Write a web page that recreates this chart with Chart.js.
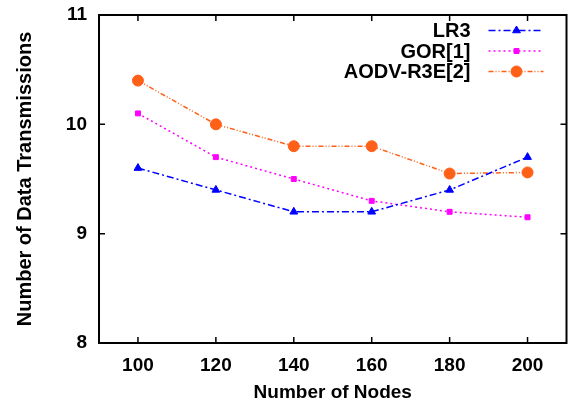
<!DOCTYPE html>
<html>
<head>
<meta charset="utf-8">
<script src="https://cdn.jsdelivr.net/npm/chart.js@4.4.0/dist/chart.umd.min.js"></script>
<style>
  html, body { margin: 0; padding: 0; background: #fff; }
  #wrap { width: 573px; height: 408px; }
</style>
</head>
<body>
<div id="wrap"><canvas id="c" width="573" height="408"></canvas></div>
<script>
// values
const nodes = [100, 120, 140, 160, 180, 200];
const lr3 = [9.6, 9.4, 9.2, 9.2, 9.4, 9.7];
const gor = [10.1, 9.7, 9.5, 9.3, 9.2, 9.15];
const aodv = [10.4, 10.0, 9.8, 9.8, 9.55, 9.56];
const xTicks = [100, 120, 140, 160, 180, 200];
const yTicks = [8, 9, 10, 11];

const FONT = '"Liberation Sans", Arial, sans-serif';

const pts = (ys) => nodes.map((x, i) => ({ x: x, y: ys[i] }));

// box round the plot with inward ticks on all four sides
const frame = {
  id: 'frame',
  afterDatasetsDraw(chart) {
    const { ctx, chartArea: a, scales: { x, y } } = chart;
    ctx.save();
    ctx.strokeStyle = '#000';
    ctx.lineWidth = 1.5;
    ctx.setLineDash([]);
    ctx.beginPath();
    xTicks.forEach(v => {
      const px = x.getPixelForValue(v);
      ctx.moveTo(px, a.bottom); ctx.lineTo(px, a.bottom - 6);
      ctx.moveTo(px, a.top); ctx.lineTo(px, a.top + 6);
    });
    yTicks.forEach(v => {
      const py = y.getPixelForValue(v);
      ctx.moveTo(a.left, py); ctx.lineTo(a.left + 6, py);
      ctx.moveTo(a.right, py); ctx.lineTo(a.right - 6, py);
    });
    ctx.stroke();
    ctx.lineWidth = 2;
    ctx.strokeRect(a.left, a.top, a.right - a.left, a.bottom - a.top);
    ctx.restore();
  }
};

// legend like the original: label right-aligned, sample line on the right
const keyBox = {
  id: 'keyBox',
  afterDraw(chart) {
    const { ctx, chartArea: a } = chart;
    ctx.save();
    chart.data.datasets.forEach((ds, i) => {
      const yy = a.top + 15.5 + i * 20.5;
      ctx.font = 'bold 20px ' + FONT;
      ctx.fillStyle = '#000';
      ctx.textAlign = 'right';
      ctx.textBaseline = 'middle';
      ctx.fillText(ds.label, a.right - 96, yy + 1);
      ctx.strokeStyle = ds.borderColor;
      ctx.lineWidth = ds.borderWidth;
      ctx.setLineDash(ds.borderDash);
      ctx.beginPath();
      ctx.moveTo(a.right - 78, yy);
      ctx.lineTo(a.right - 23, yy);
      ctx.stroke();
      ctx.setLineDash([]);
      ctx.fillStyle = ds.pointBackgroundColor;
      ctx.strokeStyle = ds.pointBorderColor;
      ctx.lineWidth = ds.pointBorderWidth;
      Chart.helpers.drawPoint(ctx, {
        pointStyle: ds.pointStyle, radius: ds.pointRadius,
        borderWidth: ds.pointBorderWidth, rotation: 0
      }, a.right - 50, yy);
    });
    ctx.restore();
  }
};

new Chart(document.getElementById('c'), {
  type: 'line',
  data: {
    datasets: [
      {
        label: 'LR3', data: pts(lr3),
        borderColor: '#0000ff', borderWidth: 1.5, borderDash: [7, 3, 2, 3],
        pointStyle: 'triangle', pointRadius: 4.5,
        pointBackgroundColor: '#0000ff', pointBorderColor: '#0000ff', pointBorderWidth: 1
      },
      {
        label: 'GOR[1]', data: pts(gor),
        borderColor: '#ff00ff', borderWidth: 1.5, borderDash: [2, 3],
        pointStyle: 'rect', pointRadius: 3.5,
        pointBackgroundColor: '#ff00ff', pointBorderColor: '#ff00ff', pointBorderWidth: 1
      },
      {
        label: 'AODV-R3E[2]', data: pts(aodv),
        borderColor: '#ff6018', borderWidth: 1.5, borderDash: [5, 2, 1, 2, 1, 2],
        pointStyle: 'circle', pointRadius: 5.5,
        pointBackgroundColor: '#ff6018', pointBorderColor: '#ff6018', pointBorderWidth: 1
      }
    ]
  },
  options: {
    responsive: false,
    animation: false,
    layout: { padding: { top: 15, right: -3, left: 0, bottom: 0 } },
    plugins: { legend: { display: false }, tooltip: { enabled: false } },
    scales: {
      x: {
        type: 'linear', min: 90, max: 210,
        afterBuildTicks: s => { s.ticks = xTicks.map(v => ({ value: v })); },
        afterFit: s => { s.height = 65; s.paddingLeft = 0; s.paddingRight = 0; },
        grid: { drawOnChartArea: false, drawTicks: false },
        border: { display: false },
        ticks: { padding: 11, color: '#000', font: { family: FONT, size: 19, weight: 'bold' } },
        title: {
          display: true, text: 'Number of Nodes', color: '#000',
          font: { family: FONT, size: 19, weight: 'bold' }, padding: { top: 0, bottom: 4 }
        }
      },
      y: {
        min: 8, max: 11,
        afterBuildTicks: s => { s.ticks = yTicks.map(v => ({ value: v })); },
        afterFit: s => { s.width = 99; s.paddingTop = 0; s.paddingBottom = 0; },
        grid: { drawOnChartArea: false, drawTicks: false },
        border: { display: false },
        ticks: { padding: 12, color: '#000', font: { family: FONT, size: 19, weight: 'bold' } },
        title: {
          display: true, text: 'Number of Data Transmissions', color: '#000',
          font: { family: FONT, size: 20, weight: 'bold' }, padding: { top: 13, bottom: 0 }
        }
      }
    }
  },
  plugins: [frame, keyBox]
});
</script>
</body>
</html>
